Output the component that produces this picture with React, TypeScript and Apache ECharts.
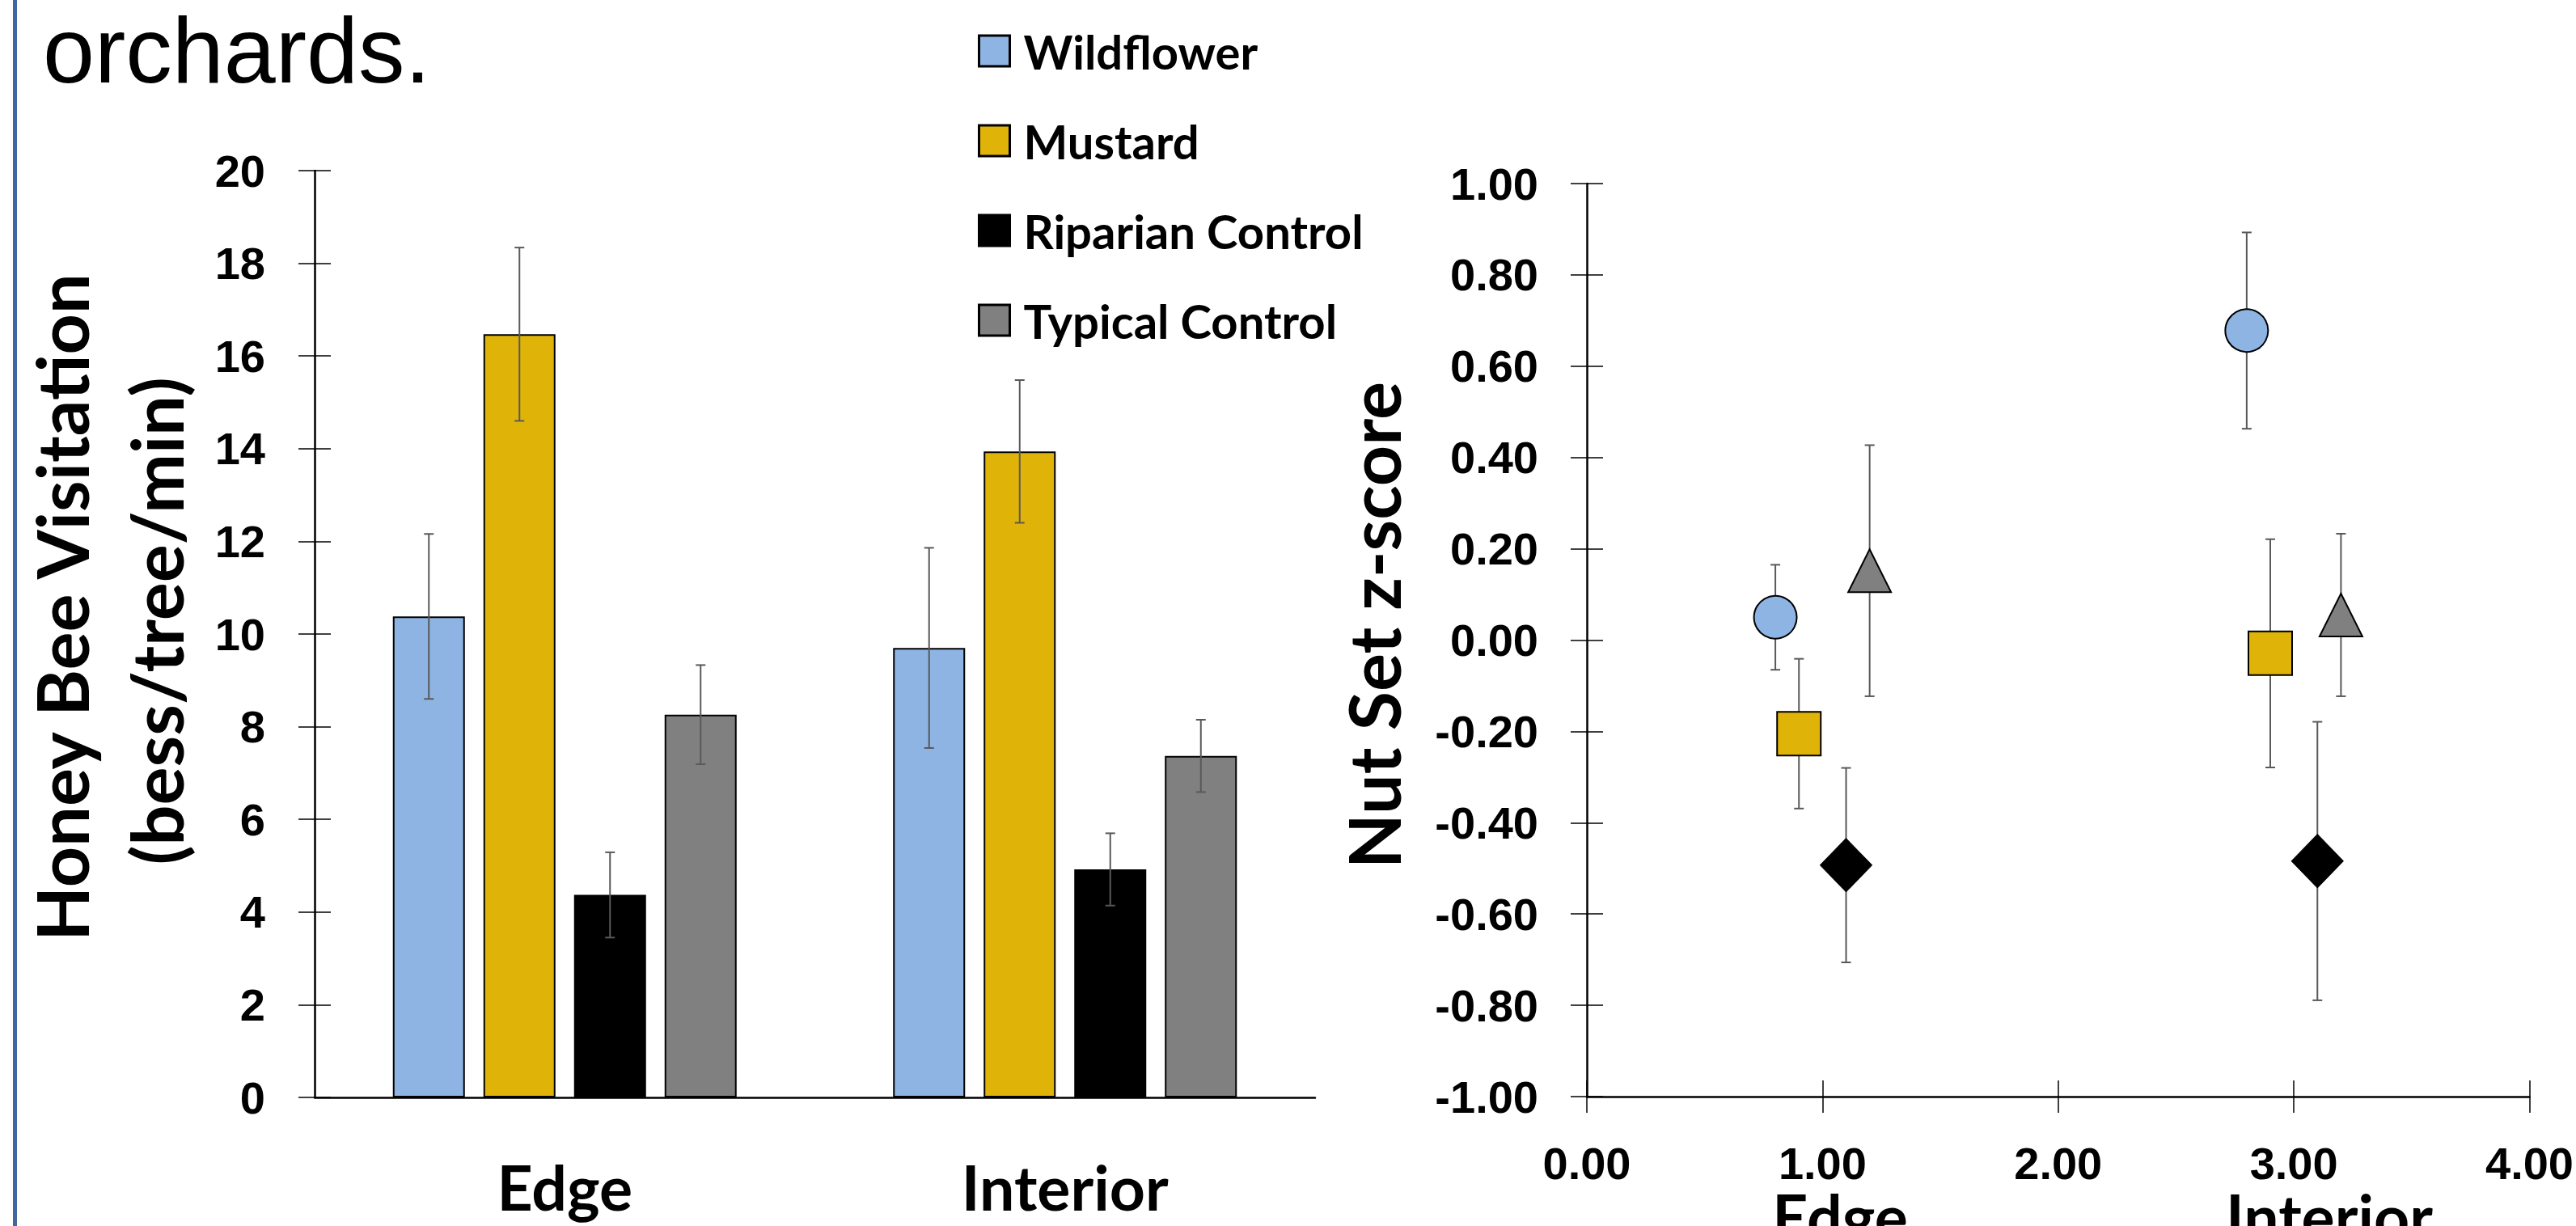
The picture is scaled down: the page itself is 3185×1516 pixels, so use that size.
import React, { useEffect, useRef } from "react";
import * as echarts from "echarts";

// ---------- data ----------
const treatments = ["Wildflower", "Mustard", "Riparian Control", "Typical Control"];
const locations = ["Edge", "Interior"];

// Honey bee visitation (bees/tree/min), per treatment: [Edge, Interior]
const visitWildflower = [10.38, 9.7];
const visitMustard = [16.47, 13.94];
const visitRiparian = [4.37, 4.92];
const visitTypical = [8.26, 7.37];
const visitErrWildflower = [1.78, 2.16];
const visitErrMustard = [1.87, 1.54];
const visitErrRiparian = [0.92, 0.78];
const visitErrTypical = [1.07, 0.78];

// Nut set z-score: x positions, means and errors per treatment: [Edge, Interior]
const zXWildflower = [0.8, 2.8];
const zXMustard = [0.9, 2.9];
const zXRiparian = [1.1, 3.1];
const zXTypical = [1.2, 3.2];
const zWildflower = [0.05, 0.678];
const zMustard = [-0.205, -0.029];
const zRiparian = [-0.493, -0.484];
const zTypical = [0.152, 0.055];
const zErrWildflower = [0.115, 0.215];
const zErrMustard = [0.164, 0.25];
const zErrRiparian = [0.213, 0.305];
const zErrTypical = [0.275, 0.178];

// axis ticks
const visitTicks = [0, 20, 2]; // min, max, interval
const zYTicks = [-1, 1, 0.2];
const zXTicks = [0, 4, 1];

// text
const titleText = "orchards.";
const visitTitle = ["Honey Bee Visitation", "(bess/tree/min)"];
const zTitle = "Nut Set z-score";

// ---------- styles ----------
const colors = ["#8EB4E3", "#E0B309", "#000000", "#808080"];
const symbols = ["circle", "rect", "diamond", "triangle"];
const symbolSizes: any[] = [53, 54, [64, 66], 53];
const ERR_COLOR = "#595959";
const BAR_W = 89;
const BAR_STEP = 112;
const CAP = 6;
const TICK_FONT = "Liberation Sans";
const TEXT_FONT = "Lato";

const visitMeans = [visitWildflower, visitMustard, visitRiparian, visitTypical];
const visitErrs = [visitErrWildflower, visitErrMustard, visitErrRiparian, visitErrTypical];
const zXs = [zXWildflower, zXMustard, zXRiparian, zXTypical];
const zMeans = [zWildflower, zMustard, zRiparian, zTypical];
const zErrs = [zErrWildflower, zErrMustard, zErrRiparian, zErrTypical];

function errBar(x: number, yHi: number, yLo: number) {
  const st = { stroke: ERR_COLOR, lineWidth: 2 };
  return {
    type: "group",
    children: [
      { type: "line", shape: { x1: x, y1: yHi, x2: x, y2: yLo }, style: st },
      { type: "line", shape: { x1: x - CAP, y1: yHi, x2: x + CAP, y2: yHi }, style: st },
      { type: "line", shape: { x1: x - CAP, y1: yLo, x2: x + CAP, y2: yLo }, style: st },
    ],
  };
}

export default function App() {
  const ref = useRef<HTMLDivElement>(null);
  useEffect(() => {
    document.body.style.margin = "0";
    document.body.style.overflow = "hidden";
    if (!ref.current) return;
    const chart = echarts.init(ref.current, undefined, { renderer: "svg" });

    const axisLineStyle = { color: "#000", width: 2.5 };
    const tickStyle = { color: "#000", width: 1.5 };
    const tickLabel = {
      fontFamily: TICK_FONT,
      fontWeight: "bold" as const,
      fontSize: 56,
      color: "#000",
    };

    const series: any[] = [];
    treatments.forEach((name, i) => {
      series.push({
        name,
        type: "bar",
        xAxisIndex: 0,
        yAxisIndex: 0,
        barWidth: BAR_W,
        barGap: ((BAR_STEP - BAR_W) / BAR_W) * 100 + "%",
        data: visitMeans[i],
        itemStyle: { color: colors[i], borderColor: "#000", borderWidth: 2 },
        z: 2,
      });
    });
    treatments.forEach((name, i) => {
      series.push({
        name: name + " visit error",
        type: "custom",
        xAxisIndex: 0,
        yAxisIndex: 0,
        z: 3,
        data: visitMeans[i].map((v, k) => [k, v, visitErrs[i][k]]),
        renderItem: (_p: any, api: any) => {
          const c = api.value(0);
          const v = api.value(1);
          const e = api.value(2);
          const hi = api.coord([c, v + e]);
          const lo = api.coord([c, v - e]);
          const x = hi[0] + (i - 1.5) * BAR_STEP;
          return errBar(x, hi[1], lo[1]);
        },
      });
    });
    treatments.forEach((name, i) => {
      series.push({
        name: name + " z error",
        type: "custom",
        xAxisIndex: 1,
        yAxisIndex: 2,
        z: 3,
        data: zMeans[i].map((v, k) => [zXs[i][k], v, zErrs[i][k]]),
        renderItem: (_p: any, api: any) => {
          const x = api.value(0);
          const v = api.value(1);
          const e = api.value(2);
          const hi = api.coord([x, v + e]);
          const lo = api.coord([x, v - e]);
          return errBar(hi[0], hi[1], lo[1]);
        },
      });
      series.push({
        name: name + " z",
        type: "scatter",
        xAxisIndex: 1,
        yAxisIndex: 2,
        z: 4,
        symbol: symbols[i],
        symbolSize: symbolSizes[i],
        data: zMeans[i].map((v, k) => [zXs[i][k], v]),
        itemStyle: {
          color: colors[i],
          borderColor: "#000",
          borderWidth: i === 2 ? 1 : 2,
          opacity: 1,
        },
      });
    });

    const fmt2 = (v: number) => (Math.abs(v) < 1e-9 ? 0 : v).toFixed(2);

    const rotTitle = (text: string, x: number, y: number) => ({
      type: "text",
      x,
      y,
      rotation: Math.PI / 2,
      style: {
        text,
        font: "bold 88px Lato, sans-serif",
        fill: "#000",
        align: "center",
        verticalAlign: "middle",
      },
    });

    chart.setOption({
      animation: false,
      backgroundColor: "#fff",
      grid: [
        { left: 389, right: 3185 - 1626, top: 211, bottom: 1516 - 1357, containLabel: false },
        { left: 1962, right: 3185 - 3133, top: 227, bottom: 1516 - 1356, containLabel: false },
      ],
      legend: {
        data: treatments,
        orient: "vertical",
        left: 1204,
        top: 28,
        icon: "rect",
        itemWidth: 38,
        itemHeight: 38,
        itemGap: 51,
        selectedMode: false,
        itemStyle: { borderColor: "#000", borderWidth: 3 },
        textStyle: {
          fontFamily: TEXT_FONT,
          fontWeight: "bold",
          fontSize: 58,
          lineHeight: 60,
          color: "#000",
          padding: [0, 0, 0, 12],
        },
      },
      xAxis: [
        {
          type: "category",
          gridIndex: 0,
          data: locations,
          axisLine: { show: true, lineStyle: axisLineStyle },
          axisTick: { show: false },
          axisLabel: {
            fontFamily: TEXT_FONT,
            fontWeight: "bold",
            fontSize: 77,
            color: "#000",
            margin: 110,
            verticalAlign: "middle",
          },
          splitLine: { show: false },
        },
        {
          type: "value",
          gridIndex: 1,
          min: zXTicks[0],
          max: zXTicks[1],
          interval: zXTicks[2],
          axisLine: { show: true, onZero: false, lineStyle: axisLineStyle },
          axisTick: { show: true, length: 20, lineStyle: tickStyle },
          axisLabel: { ...tickLabel, margin: 82, verticalAlign: "middle", formatter: fmt2 },
          splitLine: { show: false },
        },
        {
          type: "value",
          gridIndex: 1,
          position: "bottom",
          min: zXTicks[0],
          max: zXTicks[1],
          interval: zXTicks[2],
          axisLine: { show: false, onZero: false },
          axisTick: { show: true, inside: true, length: 20, lineStyle: tickStyle },
          axisLabel: { show: false },
          splitLine: { show: false },
        },
      ],
      yAxis: [
        {
          type: "value",
          gridIndex: 0,
          min: visitTicks[0],
          max: visitTicks[1],
          interval: visitTicks[2],
          axisLine: { show: true, lineStyle: axisLineStyle },
          axisTick: { show: true, length: 20, lineStyle: tickStyle },
          axisLabel: { ...tickLabel, margin: 61 },
          splitLine: { show: false },
        },
        {
          type: "value",
          gridIndex: 0,
          position: "left",
          min: visitTicks[0],
          max: visitTicks[1],
          interval: visitTicks[2],
          axisLine: { show: false },
          axisTick: { show: true, inside: true, length: 20, lineStyle: tickStyle },
          axisLabel: { show: false },
          splitLine: { show: false },
        },
        {
          type: "value",
          gridIndex: 1,
          min: zYTicks[0],
          max: zYTicks[1],
          interval: zYTicks[2],
          axisLine: { show: true, onZero: false, lineStyle: axisLineStyle },
          axisTick: { show: true, length: 20, lineStyle: tickStyle },
          axisLabel: { ...tickLabel, margin: 60, formatter: fmt2 },
          splitLine: { show: false },
        },
        {
          type: "value",
          gridIndex: 1,
          position: "left",
          min: zYTicks[0],
          max: zYTicks[1],
          interval: zYTicks[2],
          axisLine: { show: false, onZero: false },
          axisTick: { show: true, inside: true, length: 20, lineStyle: tickStyle },
          axisLabel: { show: false },
          splitLine: { show: false },
        },
      ],
      graphic: [
        { type: "rect", shape: { x: 16, y: 0, width: 5, height: 1516 }, style: { fill: "#41679E" } },
        {
          type: "text",
          x: 53,
          y: 62,
          style: {
            text: titleText,
            font: "115px 'Liberation Sans', Arial, sans-serif",
            fill: "#000",
            align: "left",
            verticalAlign: "middle",
          },
        },
        rotTitle(visitTitle[0], 76, 751),
        rotTitle(visitTitle[1], 193, 768),
        rotTitle(zTitle, 1698, 773),
        {
          type: "text",
          x: 2275,
          y: 1503,
          style: {
            text: locations[0],
            font: "bold 77px Lato, sans-serif",
            fill: "#000",
            align: "center",
            verticalAlign: "middle",
          },
        },
        {
          type: "text",
          x: 2880,
          y: 1503,
          style: {
            text: locations[1],
            font: "bold 77px Lato, sans-serif",
            fill: "#000",
            align: "center",
            verticalAlign: "middle",
          },
        },
      ],
      series,
    });
    return () => chart.dispose();
  }, []);
  return <div ref={ref} style={{ width: 3185, height: 1516 }} />;
}
